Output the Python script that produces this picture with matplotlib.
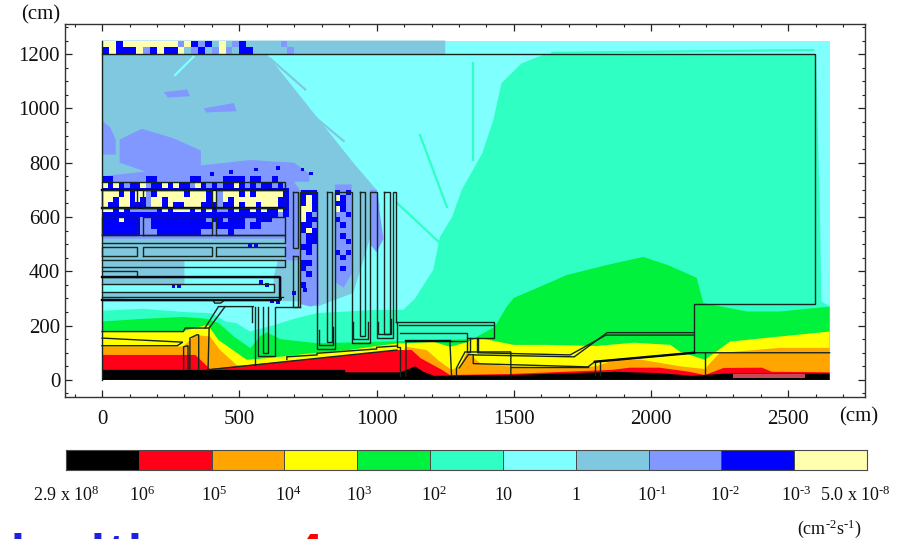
import numpy as np
import matplotlib
matplotlib.use("Agg")
import matplotlib.pyplot as plt
from matplotlib.colors import ListedColormap

plt.rcParams['font.family'] = ['Liberation Serif', 'DejaVu Serif']
plt.rcParams['mathtext.fontset'] = 'custom'
plt.rcParams['mathtext.rm'] = 'Liberation Serif'
plt.rcParams['mathtext.default'] = 'rm'

# colour scale, from highest flux to lowest
level_names = list("KROYGTCSPBW")
level_colors = ['#000000', '#ff0018', '#ffa500', '#ffff00', '#00f23c', '#30ffc4',
                '#80ffff', '#80c8e0', '#8098ff', '#0000ff', '#ffffb0']
level_labels = ['2.9 x 10$^{8}$', '10$^{6}$', '10$^{5}$', '10$^{4}$', '10$^{3}$', '10$^{2}$',
                '10', '1', r'10$^{\text{-}1}$', r'10$^{\text{-}2}$', r'10$^{\text{-}3}$',
                r'5.0 x 10$^{\text{-}8}$']
label_pos = [0, 1.05, 2.03, 3.05, 4.03, 5.05, 6, 7, 8.05, 9.05, 10.02, 10.84]

# top edge of each flux band (cm), closed along the floor
teal_x = [0, 150, 300, 400, 450, 490, 539, 637, 700, 783, 1000, 1097, 1140, 1206, 1231, 1275,
          1310, 1385, 1425, 1455, 1528, 1606, 2600, 2608, 2615, 2620, 2650, 2650]
teal_y = [255, 262, 250, 245, 215, 209, 178, 205, 225, 246, 258, 258, 300, 405, 527, 600,
          700, 835, 957, 1093, 1166, 1197, 1200, 900, 600, 290, 270, 0]
green_x = [0, 150, 296, 380, 424, 480, 540, 575, 600, 650, 783, 1000, 1209, 1350, 1431, 1474,
           1500, 1583, 1692, 1838, 1971, 2061, 2166, 2190, 2349, 2470, 2650, 2650]
green_y = [215, 225, 232, 225, 210, 160, 117, 160, 175, 150, 135, 140, 147, 150, 196, 270,
           302, 338, 386, 423, 453, 423, 376, 283, 252, 252, 270, 0]
yellow_x = [0, 296, 385, 424, 527, 600, 784, 900, 1000, 1080, 1110, 1209, 1267, 1316, 1370,
            1500, 1620, 1800, 1937, 2070, 2105, 2196, 2230, 2287, 2470, 2650, 2650]
yellow_y = [180, 180, 203, 147, 74, 80, 100, 110, 125, 135, 135, 140, 122, 135, 155,
            129, 129, 125, 137, 129, 104, 74, 99, 141, 160, 178, 0]
orange_x = [0, 296, 340, 393, 430, 490, 530, 1070, 1107, 1182, 1231, 1273, 1304, 1329, 1376,
            1486, 1660, 1800, 1863, 1960, 2105, 2196, 2215, 2250, 2470, 2650, 2650]
orange_y = [123, 123, 165, 160, 110, 55, 48, 48, 122, 110, 67, 37, 49, 104, 62,
            49, 45, 50, 72, 75, 50, 40, 62, 99, 118, 118, 0]
red_x = [0, 340, 393, 1074, 1128, 1160, 1238, 1267, 1490, 1857, 1922, 2030, 2138, 2196, 2264,
         2403, 2440, 2650, 2650]
red_y = [92, 92, 40, 110, 110, 80, 37, 18, 22, 37, 45, 45, 30, 18, 44,
         45, 30, 28, 0]
black_x = [0, 885, 886, 1085, 1110, 1140, 1170, 1210, 1490, 1870, 2030, 2150, 2264, 2650, 2650]
black_y = [37, 37, 28, 28, 37, 50, 30, 15, 18, 30, 25, 15, 23, 23, 0]
# pale red strip on the floor at the far end
floor_x = [2300, 2560, 2560, 2300]
floor_y = [20, 20, 6, 6]

# closed patches of a single level: (level, xs, ys)
patches = [
    ('S', [0, 720, 784, 915, 1012, 1000, 915, 600, 1250, 1250, 0],
     [290, 290, 270, 320, 640, 700, 800, 1200, 1200, 1250, 1250]),
    ('P', [0, 666, 666, 720, 720, 666, 666, 0], [745, 745, 780, 700, 440, 440, 520, 520]),
    ('P', [720, 784, 790, 760, 720], [700, 700, 280, 270, 280]),
    ('P', [848, 909, 915, 880, 848], [720, 720, 400, 340, 360]),
    ('P', [976, 1000, 1025, 1000, 976], [700, 700, 520, 470, 500]),
    ('P', [64, 145, 260, 360, 360, 180, 64], [885, 925, 890, 845, 770, 760, 800]),
    ('P', [0, 30, 50, 50, 0], [955, 930, 885, 830, 830]),
    ('P', [0, 270, 540, 700, 755, 755, 0], [750, 780, 810, 800, 760, 730, 730]),
    ('P', [225, 310, 320, 240], [1060, 1070, 1045, 1040]),
    ('P', [370, 480, 490, 380], [1000, 1020, 990, 985]),
    ('C', [300, 640, 625, 625, 300], [440, 440, 380, 320, 320]),
    ('C', [0, 625, 625, 0], [353, 353, 322, 322]),
    ('C', [0, 660, 660, 150], [306, 306, 296, 296]),
]

# thin rays of one level across the field: (level, xs, ys)
streaks = [
    ('C', [266, 333], [1123, 1190]),
    ('S', [612, 740], [1184, 1070]),
    ('S', [690, 880], [1040, 880]),
    ('T', [1158, 1256], [902, 637]),
    ('T', [1074, 1231], [652, 504]),
    ('T', [1352, 1352], [1167, 810]),
    ('T', [1640, 2590], [1205, 1215]),
]

# speckle maps, first row on top, '.' leaves the cell unset
rack_x0, rack_cell = 0, 20
rack_y_edges = [750, 730, 708, 696, 675, 655, 638, 620, 600, 580, 555, 530]
rack_map = [
    "bb...p..bb....ppbb....bbbb.bb..bpp",
    "cbcbpbbcpbbcbcbbpcbpbpbbcbpbpbbpbp",
    "bbbbbbbbbbbbbbbbbbbbbbbbbbbbbbbbbb",
    "cccbcbcc.bcccccbcccbc.cccbcbcccccb",
    "ccbccbcb.ccbcccccccbc.cbccccccccbb",
    "cbbccbbb.ccbcbbcccbbb.bbcbccbcccbb",
    "ccbcbppp.pbcbcccbcbcb.pbcbbcbcbbcb",
    "bbbbbbbbbbbbbbbbbbbbbbbbbbbbbbbbpb",
    "bbbcbbbp.bbbbbbbbbbpbbpbbbppbbbppp",
    "bbbbbbbp.bbbbbbbbbbbpbbbbbpbbpppp.",
    "bbbbbbbp.pbbbbbbbbpppppbpppppppp..",
]
tube_cell = 20
tube1_x0, tube1_y_top = 724, 700
tube1_map = ["bbb", "bcb", "bcb", "ccb", "cbp", "cbb", "bbp", "bcb", "pbb", "pbb",
             "bbp", "pbp", "ppp", "bbp", "bpp", "pbp", "ppp", "bpp", "ppp"]
tube2_x0, tube2_y_top = 848, 700
tube2_map = ["bpb", "cbp", "bbp", "cbp", "ppb", "bpp", "pbp", "ppp", "pbp", "ppb",
             "ppp", "bpb", "pbp", "ppp", "pbp"]
strip_x0, strip_y_top, strip_cell = 0, 1250, 25
strip_map = [
    "ccbccccccccpcbpbscspbs.s.sp.",
    "bcbbbcpbcbbcspbspcpsbbss.s.p",
]
# isolated flux spots (x, y in cm, level)
spot_x = [620, 640, 650, 700, 740, 600, 580, 260, 280, 540, 560, 400, 470, 560, 640, 730, 760]
spot_y = [290, 285, 300, 320, 330, 350, 360, 345, 345, 495, 495, 758, 765, 775, 780, 775, 760]
spot_l = ['B'] * 17

# wall outlines (cm)
outlines = [
    # experimental hall
    [(0, 1250), (0, 0)],
    [(0, 1200), (2597, 1200), (2597, 280), (2156, 280), (2156, 100)],
    # left tunnel roof and hook
    [(0, 178), (296, 178), (303, 191), (375, 191), (424, 270), (551, 270)],
    [(375, 191), (390, 191), (448, 270)],
    [(390, 191), (386, 37)],
    [(0, 154), (294, 139), (274, 126), (0, 126)],
    [(297, 40), (297, 122), (313, 126), (313, 40)],
    [(320, 40), (320, 154), (345, 166), (352, 166), (352, 40)],
    # pillars under the hall floor
    [(546, 270), (546, 215)],
    [(557, 270), (557, 55)],
    [(569, 270), (569, 88), (630, 88), (630, 270), (721, 270)],
    [(587, 270), (587, 99), (605, 99), (605, 270)],
    [(404, 295), (448, 295), (432, 283), (410, 283), (404, 295)],
    # shielding wall tubes
    [(721, 270), (721, 693), (784, 693), (784, 114), (848, 114), (848, 693), (909, 693),
     (909, 136), (976, 136), (976, 693), (1000, 693), (1000, 154), (1058, 154), (1058, 693),
     (1070, 693), (1070, 215)],
    [(818, 693), (818, 138), (836, 138), (836, 693), (818, 693)],
    [(939, 693), (939, 160), (958, 160), (958, 693), (939, 693)],
    [(1028, 693), (1028, 170), (1047, 170), (1047, 693), (1028, 693)],
    [(791, 184), (791, 130), (842, 130), (842, 195)],
    [(915, 215), (915, 150), (970, 150), (970, 215)],
    [(1005, 215), (1005, 170), (1052, 170), (1052, 225)],
    [(697, 693), (713, 693), (713, 487), (697, 487), (697, 693)],
    [(697, 457), (713, 457), (713, 270), (697, 270), (697, 457)],
    # main tunnel slope
    [(382, 37), (1074, 110)],
    [(673, 75), (673, 85), (783, 92), (783, 98), (1000, 114), (1000, 120), (1074, 125)],
    # target station block
    [(1070, 215), (1427, 215), (1427, 156), (1328, 156), (1328, 172), (1085, 172)],
    [(1081, 203), (1427, 203)],
    [(1074, 213), (1074, 120), (1085, 120), (1085, 14)],
    [(1107, 14), (1107, 142), (1267, 142), (1273, 14)],
    [(1267, 142), (1328, 142)],
    [(1328, 156), (1328, 104), (1340, 104), (1340, 156)],
    [(1364, 156), (1364, 104), (1370, 104), (1370, 156)],
    [(1291, 14), (1291, 44), (1322, 103), (1489, 103), (1489, 14)],
    [(1301, 44), (1334, 93), (1352, 93), (1352, 60), (1770, 48), (1795, 67), (2156, 100),
     (2196, 100), (2650, 100)],
    [(1352, 92), (1720, 85), (1840, 174), (2156, 174)],
    [(1370, 100), (1705, 92), (1835, 165), (2156, 165)],
    [(1795, 67), (1795, 18)],
    [(1815, 65), (1815, 18)],
    [(2196, 100), (2196, 18)],
    [(1489, 48), (1770, 48)],
    # rack rows
    [(0, 730), (666, 730), (666, 700)],
    [(0, 378), (648, 378), (648, 295), (0, 295)],
    [(0, 353), (625, 353), (625, 322), (0, 322)],
    [(0, 307), (660, 307)],
    [(0, 401), (126, 401), (126, 380)],
    [(0, 506), (666, 506), (666, 534), (0, 534)],
    [(0, 416), (666, 416), (666, 442), (0, 442)],
]
thick_lines = [
    [(0, 700), (666, 700)],
    [(0, 633), (666, 633)],
    [(0, 296), (640, 296)],
    [(0, 378), (648, 378), (648, 300)],
    [(1107, 142), (1267, 142)],
    [(1795, 67), (2156, 100)],
]
# rack boxes: x spans and y spans
box_x0 = [0, 150, 416]
box_x1 = [126, 400, 666]
box_y0 = [633, 534, 457]
box_y1 = [700, 601, 488]

x_major = [0, 500, 1000, 1500, 2000, 2500]
y_major = [0, 200, 400, 600, 800, 1000, 1200]

W, H = 897, 539


def px_axes(left, top, right, bottom):
    return [left / W, 1 - bottom / H, (right - left) / W, (bottom - top) / H]


fig = plt.figure(figsize=(W / 100, H / 100), dpi=100)
ax = fig.add_axes(px_axes(65, 24, 865, 397))
ax.set_xlim(-135, 2779)
ax.set_ylim(-63, 1311)

color_of = dict(zip(level_names, level_colors))
cmap = ListedColormap(level_colors)


def grid_codes(rows):
    codes = np.full((len(rows), len(rows[0])), np.nan)
    for i, row in enumerate(rows):
        for j, ch in enumerate(row):
            if ch != '.':
                codes[i, j] = level_names.index({'c': 'W', 'b': 'B', 'p': 'P', 's': 'S'}[ch])
    return np.ma.masked_invalid(codes)


def draw_map(rows, x0, y_edges, cell):
    xe = x0 + cell * np.arange(len(rows[0]) + 1)
    ax.pcolormesh(xe, y_edges, grid_codes(rows), cmap=cmap, vmin=-0.5, vmax=10.5, zorder=3)


def edges_from_top(rows, y_top, cell):
    return y_top - cell * np.arange(len(rows) + 1)


ax.fill([0, 2650, 2650, 0], [0, 0, 1250, 1250], color=color_of['C'], lw=0, zorder=1)
for lev, xs, ys in patches[:1]:
    ax.fill(xs, ys, color=color_of[lev], lw=0, zorder=1.2)
ax.fill(teal_x + [0], teal_y + [0], color=color_of['T'], lw=0, zorder=1.5)
for lev, xs, ys in patches[1:]:
    ax.fill(xs, ys, color=color_of[lev], lw=0, zorder=1.7)
for lev, xs, ys in streaks:
    ax.plot(xs, ys, color=color_of[lev], lw=1.6, zorder=1.8)
for lev, tx, ty in [('G', green_x, green_y), ('Y', yellow_x, yellow_y), ('O', orange_x, orange_y),
                    ('R', red_x, red_y), ('K', black_x, black_y)]:
    ax.fill(tx + [0], ty + [0], color=color_of[lev], lw=0, zorder=2)
ax.fill(floor_x, floor_y, color='#c84858', lw=0, zorder=2.1)

draw_map(rack_map, rack_x0, rack_y_edges, rack_cell)
draw_map(tube1_map, tube1_x0, edges_from_top(tube1_map, tube1_y_top, tube_cell), tube_cell)
draw_map(tube2_map, tube2_x0, edges_from_top(tube2_map, tube2_y_top, tube_cell), tube_cell)
draw_map(strip_map, strip_x0, edges_from_top(strip_map, strip_y_top, strip_cell), strip_cell)
ax.scatter(spot_x, spot_y, c=[color_of[l] for l in spot_l], s=7, marker='s', lw=0, zorder=3)

line_col = '#14261e'
for pts in outlines:
    xy = np.array(pts)
    ax.plot(xy[:, 0], xy[:, 1], color=line_col, lw=1.0, zorder=4, solid_joinstyle='miter')
for pts in thick_lines:
    xy = np.array(pts)
    ax.plot(xy[:, 0], xy[:, 1], color='#050a10', lw=1.7, zorder=4)
for y0, y1 in zip(box_y0, box_y1):
    for x0, x1 in zip(box_x0, box_x1):
        ax.plot([x0, x1, x1, x0, x0], [y0, y0, y1, y1, y0], color=line_col, lw=1.0, zorder=4)

ax.set_xticks(x_major)
ax.set_yticks(y_major)
ax.set_xticks(np.arange(-100, 2800, 100), minor=True)
ax.set_yticks(np.arange(-50, 1301, 50), minor=True)
ax.tick_params(which='major', direction='in', length=5, width=0.9, top=True, right=True,
               labelsize=15, color='#222222', labelcolor='#111111')
ax.tick_params(which='minor', direction='in', length=2.5, width=0.8, top=True, right=True,
               color='#222222')
ax.tick_params(axis='x', which='major', pad=9)
ax.tick_params(axis='y', which='major', pad=3.5)
for s in ax.spines.values():
    s.set_linewidth(1.0)
    s.set_color('#333333')

# colour bar
cax = fig.add_axes(px_axes(66, 450, 867, 470))
cax.pcolormesh(np.arange(12), [0, 1], np.arange(11).reshape(1, -1), cmap=cmap, vmin=-0.5,
               vmax=10.5, edgecolors='#4a4a4a', linewidth=0.6)
cax.set_xlim(0, 11)
cax.set_ylim(0, 1)
cax.set_xticks([])
cax.set_yticks([])
for s in cax.spines.values():
    s.set_linewidth(0.8)
    s.set_color('#4a4a4a')
for lab, pos in zip(level_labels, label_pos):
    cax.text(pos, -1.25, lab, ha='center', va='center', fontsize=13, color='#111111')

fig.text(41 / W, 1 - 15 / H, '(cm)', ha='center', va='center', fontsize=15, color='#111111')
fig.text(859 / W, 1 - 417 / H, '(cm)', ha='center', va='center', fontsize=15, color='#111111')
fig.text(829 / W, 1 - 529 / H, r'(cm$^{\text{-}2}$s$^{\text{-}1}$)', ha='center', va='center',
         fontsize=13, color='#111111')

# heading cut off by the lower image edge
for ch, xp, col in [('l', 17.5, '#2020e0'), ('l', 97.5, '#2020e0'), ('t', 116, '#2020e0'),
                    ('l', 134, '#2020e0'), ('4', 308, '#ff0000')]:
    fig.text(xp / W, 1 - 533 / H, ch, ha='center', va='top', fontsize=36, color=col,
             family=['Liberation Sans'], weight='bold')

fig.savefig('out.png', dpi=100)
